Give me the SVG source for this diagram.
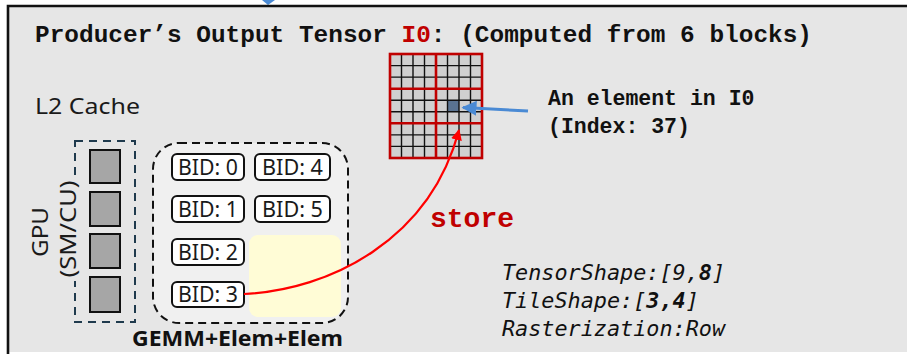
<svg xmlns="http://www.w3.org/2000/svg" width="907" height="354" viewBox="0 0 907 354">
  <style>
    .mono { font-family: "Liberation Mono", "DejaVu Sans Mono", monospace; }
    .sans { font-family: "Noto Sans", "Open Sans", "Liberation Sans", sans-serif; }
    .bid rect { fill: #ffffff; stroke: #111111; stroke-width: 2; }
    .bid text { font-family: "Noto Sans", "Open Sans", sans-serif; font-size: 22px; fill: #1a1a1a; text-anchor: middle; }
    .sm { fill: #a6a6a6; stroke: #111111; stroke-width: 2; }
    .cellline { stroke: #111111; stroke-width: 1.4; }
    .tileline { stroke: #c00000; stroke-width: 2.6; fill: none; }
  </style>
  <defs>
    <marker id="redHead" viewBox="0 0 10 10" refX="9" refY="5" markerWidth="5" markerHeight="5" orient="auto">
      <path d="M0,0 L10,5 L0,10 z" fill="#ff0000"/>
    </marker>
    <marker id="blueHead" viewBox="0 0 10 10" refX="9" refY="5" markerWidth="5" markerHeight="5" orient="auto">
      <path d="M0,0 L10,5 L0,10 z" fill="#4a8ad4"/>
    </marker>
  </defs>

  <!-- page background and frame -->
  <rect x="0" y="0" width="907" height="354" fill="#ffffff"/>
  <path d="M262,0 L275,0 L268,5 Z" fill="#4a8ad4"/>
  <rect x="8" y="6" width="905" height="346" fill="#e6e6e6"/>
  <path d="M8,354 L8,6 L907,6" fill="none" stroke="#111111" stroke-width="2.6"/>

  <!-- title -->
  <text class="mono" x="35" y="42" font-size="24.4" font-weight="bold" fill="#111111" textLength="777">Producer’s Output Tensor <tspan fill="#c00000">I0</tspan>: (Computed from 6 blocks)</text>

  <text class="sans" x="35" y="114" font-size="22" fill="#1a1a1a" textLength="105" lengthAdjust="spacingAndGlyphs">L2 Cache</text>

  <!-- GPU with SM/CU units -->
  <g id="gpu">
    <rect x="75" y="141" width="60" height="181" fill="none" stroke="#1f3a4d" stroke-width="2" stroke-dasharray="8,6"/>
    <rect class="sm" x="90" y="150" width="30" height="33"/>
    <rect class="sm" x="90" y="192" width="30" height="34"/>
    <rect class="sm" x="90" y="234" width="30" height="34"/>
    <rect class="sm" x="90" y="277" width="30" height="35"/>
    <rect x="57" y="177" width="24" height="104" fill="#e6e6e6"/>
    <text class="sans" transform="translate(48,232) rotate(-90)" font-size="22" fill="#1a1a1a" text-anchor="middle" textLength="50" lengthAdjust="spacingAndGlyphs">GPU</text>
    <text class="sans" transform="translate(76,229) rotate(-90)" font-size="22" fill="#1a1a1a" text-anchor="middle" textLength="97" lengthAdjust="spacingAndGlyphs">(SM/CU)</text>
  </g>

  <!-- kernel: thread blocks -->
  <g id="kernel">
    <rect x="153" y="143" width="195" height="180" rx="26" fill="#f0f0f0" stroke="#111111" stroke-width="2" stroke-dasharray="8,5"/>
    <rect x="249" y="235" width="92" height="82" rx="9" fill="#fffcd6"/>
    <text class="sans" x="237.5" y="346" font-size="21" font-weight="bold" fill="#111111" text-anchor="middle" textLength="211" lengthAdjust="spacingAndGlyphs">GEMM+Elem+Elem</text>
  </g>
  <g id="bid0" class="bid"><rect x="172" y="154" width="72" height="26" rx="5"/><text x="208" y="175" textLength="60" lengthAdjust="spacingAndGlyphs">BID: 0</text></g>
  <g id="bid4" class="bid"><rect x="255" y="154" width="75" height="26" rx="5"/><text x="292.5" y="175" textLength="61" lengthAdjust="spacingAndGlyphs">BID: 4</text></g>
  <g id="bid1" class="bid"><rect x="172" y="196" width="72" height="26" rx="5"/><text x="208" y="217" textLength="60" lengthAdjust="spacingAndGlyphs">BID: 1</text></g>
  <g id="bid5" class="bid"><rect x="255" y="196" width="75" height="26" rx="5"/><text x="292.5" y="217" textLength="61" lengthAdjust="spacingAndGlyphs">BID: 5</text></g>
  <g id="bid2" class="bid"><rect x="172" y="239" width="72" height="26" rx="5"/><text x="208" y="260" textLength="60" lengthAdjust="spacingAndGlyphs">BID: 2</text></g>
  <g id="bid3" class="bid"><rect x="172" y="282" width="72" height="25" rx="5"/><text x="208" y="302" textLength="60" lengthAdjust="spacingAndGlyphs">BID: 3</text></g>

  <!-- output tensor I0: 9 x 8 elements, 3 x 4 tiles -->
  <g id="tensor">
    <rect x="390" y="54" width="92" height="104" fill="#d0d0d0"/>
    <rect x="447.5" y="100.2" width="11.5" height="11.55" fill="#5a7391"/>
    <g class="cellline">
      <line x1="401.5" y1="54" x2="401.5" y2="158"/>
      <line x1="413" y1="54" x2="413" y2="158"/>
      <line x1="424.5" y1="54" x2="424.5" y2="158"/>
      <line x1="447.5" y1="54" x2="447.5" y2="158"/>
      <line x1="459" y1="54" x2="459" y2="158"/>
      <line x1="470.5" y1="54" x2="470.5" y2="158"/>
      <line x1="390" y1="65.6" x2="482" y2="65.6"/>
      <line x1="390" y1="77.1" x2="482" y2="77.1"/>
      <line x1="390" y1="100.2" x2="482" y2="100.2"/>
      <line x1="390" y1="111.8" x2="482" y2="111.8"/>
      <line x1="390" y1="134.9" x2="482" y2="134.9"/>
      <line x1="390" y1="146.4" x2="482" y2="146.4"/>
    </g>
    <line class="tileline" x1="436" y1="54" x2="436" y2="158"/>
    <line class="tileline" x1="390" y1="88.7" x2="482" y2="88.7"/>
    <line class="tileline" x1="390" y1="123.3" x2="482" y2="123.3"/>
    <rect class="tileline" x="390" y="54" width="92" height="104"/>
  </g>

  <g id="element-label">
    <text class="mono" x="548" y="105" font-size="21.5" font-weight="bold" fill="#111111">An element in I0</text>
    <text class="mono" x="548" y="133" font-size="21.5" font-weight="bold" fill="#111111">(Index: 37)</text>
  </g>

  <!-- connectors -->
  <g id="connectors" fill="none">
    <path d="M244,294 C330,290 430,240 459,130" stroke="#ff0000" stroke-width="2.2" marker-end="url(#redHead)"/>
    <line x1="528" y1="111" x2="463" y2="107.5" stroke="#4a8ad4" stroke-width="3" marker-end="url(#blueHead)"/>
  </g>
  <text class="mono" x="430" y="227" font-size="28" font-weight="bold" fill="#c00000">store</text>

  <!-- tiling parameters -->
  <g id="params" font-family="'DejaVu Sans Mono', 'Liberation Mono', monospace" font-size="21.8" font-style="italic" fill="#111111">
    <text x="502" y="280">TensorShape:[9,<tspan font-weight="bold">8</tspan>]</text>
    <text x="502" y="308">TileShape:[<tspan font-weight="bold">3,4</tspan>]</text>
    <text x="502" y="336">Rasterization:Row</text>
  </g>
</svg>
